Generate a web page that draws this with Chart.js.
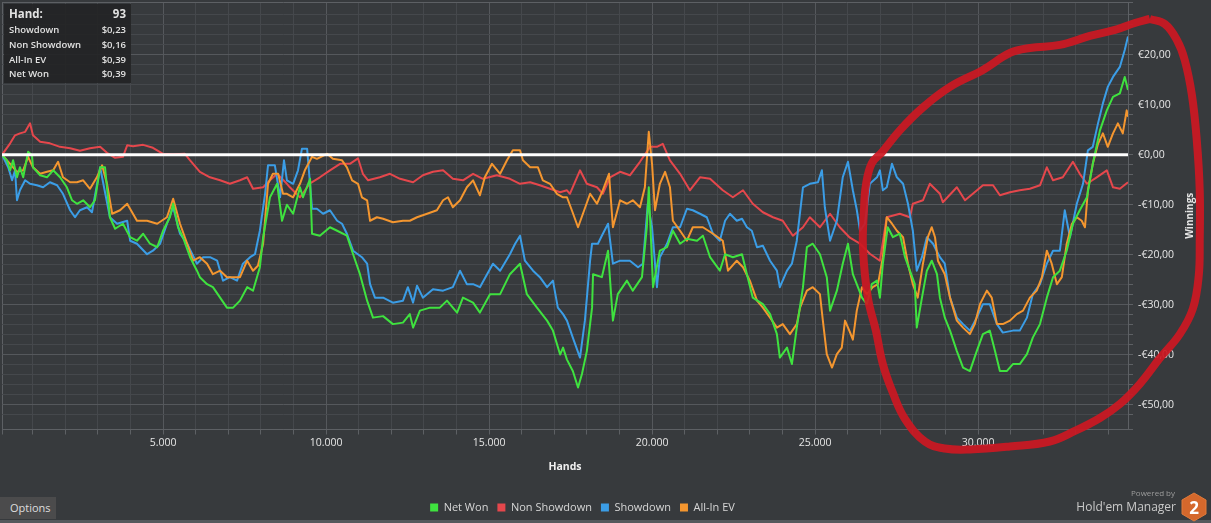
<!DOCTYPE html>
<html>
<head>
<meta charset="utf-8">
<script src="https://cdn.jsdelivr.net/npm/chart.js@4.4.1/dist/chart.umd.min.js"></script>
<style>
html,body{margin:0;padding:0;background:#373a3d;overflow:hidden}
#wrap{position:relative;width:1211px;height:523px;background:#373a3d}
#c{position:absolute;left:0;top:0}
#tip{position:absolute;left:4px;top:4px;width:127px;height:79px;background:rgba(34,35,37,0.9);font-family:"Open Sans","Noto Sans",sans-serif;color:#e2e2e2}
#tip .row{position:absolute;left:5px;right:5px;height:14px;line-height:14px;font-size:9.5px;font-weight:600;white-space:nowrap}
#tip .row .v{position:absolute;right:0;top:0}
#tip .row.h{font-size:11.5px;font-weight:700}
#opt{position:absolute;left:0;top:497px;width:56px;height:22px;background:#4b4b4c;color:#dedede;font-family:"Open Sans","Noto Sans",sans-serif;font-size:11px;line-height:22px;text-indent:10px}
#strip{position:absolute;left:0;top:520px;width:1211px;height:3px;background:#55585c}
#pw{position:absolute;right:36px;top:487px;font-family:"Open Sans","Noto Sans",sans-serif;font-size:8px;color:#9c9c9c}
#hm{position:absolute;right:35px;top:498px;font-family:"Open Sans","Noto Sans",sans-serif;font-size:12px;color:#c9c9c9}
#hex{position:absolute;left:1180px;top:492px}
</style>
</head>
<body>
<div id="wrap">
<canvas id="c" width="1211" height="523"></canvas>
<div id="tip">
  <div class="row h" style="top:3px">Hand:<span class="v">93</span></div>
  <div class="row" style="top:18.5px">Showdown<span class="v">$0,23</span></div>
  <div class="row" style="top:33.5px">Non Showdown<span class="v">$0,16</span></div>
  <div class="row" style="top:48.5px">All-In EV<span class="v">$0,39</span></div>
  <div class="row" style="top:63px">Net Won<span class="v">$0,39</span></div>
</div>
<div id="opt">Options</div>
<div id="strip"></div>
<div id="pw">Powered by</div>
<div id="hm">Hold'em Manager</div>
<svg id="hex" width="28" height="32" viewBox="0 0 28 32">
  <polygon points="14,1 26,8 26,22 14,29 2,22 2,8" fill="#d5682c" stroke="#e07a3a" stroke-width="1"/>
  <text x="14" y="21.5" text-anchor="middle" font-family="Open Sans, Noto Sans, sans-serif" font-weight="700" font-size="17" fill="#ffffff">2</text>
</svg>
</div>
<script>
// ---------------- DATA ----------------
const seriesNames = ['Net Won', 'Non Showdown', 'Showdown', 'All-In EV'];

const netWonHands = [60,210,310,400,520,610,710,860,980,1010,1230,1440,1630,1840,2050,2210,2360,2550,2760,2910,3070,3220,3370,3530,3770,3990,4200,4390,4600,4820,5000,5210,5310,5460,5610,5830,6040,6130,6350,6530,6750,6960,7150,7360,7580,7760,7970,8070,8280,8500,8650,8800,8990,9200,9290,9510,9570,9810,10120,10340,10640,10830,11040,11260,11440,11750,12050,12360,12570,12670,12880,13190,13490,13710,14020,14200,14510,14720,15030,15340,15640,15950,16160,16470,16780,16960,17180,17270,17390,17570,17730,17850,18000,18160,18190,18460,18650,18800,18950,19230,19410,19690,19840,19900,20030,20240,20460,20640,20860,21070,21380,21560,21780,22080,22240,22480,22760,22910,23090,23400,23620,23830,23920,24140,24290,24440,24630,24750,24930,25150,25360,25460,25670,25850,26010,26160,26280,26440,26590,26740,26900,26990,27080,27230,27390,27600,27760,27910,28060,28120,28280,28430,28580,28740,28830,28980,29140,29350,29540,29750,29960,30150,30360,30520,30670,30880,31070,31280,31500,31680,31900,32110,32300,32510,32720,32910,33120,33340,33520,33740,33950,34140,34350,34500,34600];
const netWonValues = [0,-1.1,-3.1,-1.1,-4.5,-2.5,-4.5,0.6,-0.1,-2.5,-4.1,-4.5,-3.1,-4.5,-6.5,-9.1,-9.8,-9.1,-10.5,-9.1,-2.5,-2.5,-12.5,-14.8,-13.8,-16.5,-17.2,-15.8,-17.8,-18.5,-15.2,-12.5,-9.8,-14.5,-16.5,-20.5,-23.2,-24.5,-25.9,-26.5,-28.6,-30.6,-30.6,-29.2,-26.5,-27.2,-22.5,-16.5,-8.5,-5.8,-13.2,-10,-11.8,-6.5,-8.5,-4.8,-15.8,-16.2,-14.5,-15.2,-16.2,-19.9,-23.9,-29.2,-32.6,-32.3,-33.9,-33.6,-31.9,-34.6,-31.2,-30.6,-30.6,-29.2,-31.6,-28.6,-29.6,-31.6,-27.9,-27.9,-23.9,-21.8,-27.9,-30.6,-33.2,-35.2,-40,-38.6,-41,-43.3,-46.6,-43.9,-39.3,-30.6,-23.9,-24.5,-19.2,-33.2,-27.9,-25.2,-27.2,-24.5,-14.5,-6.5,-26.5,-19.2,-18.5,-15.2,-17.8,-16.8,-17.2,-16.2,-20.5,-23.2,-19.9,-20.5,-19.9,-23.9,-28.6,-29.9,-31.9,-35.9,-40.6,-38.6,-41.9,-34.6,-26.5,-18.5,-17.8,-19.9,-24.5,-31.2,-27.2,-21.8,-17.8,-23.9,-25.9,-28.6,-29.9,-25.9,-25.2,-28.6,-21.8,-14.5,-16.5,-15.8,-20.5,-23.2,-25.9,-34.6,-28.6,-23.2,-21.2,-23.9,-28.6,-32.6,-35.2,-39.3,-42.6,-43.3,-39.3,-35.9,-35.2,-39.3,-43.3,-43.3,-41.9,-41.9,-39.9,-36.6,-33.9,-28.6,-24.5,-23.2,-19.2,-13.8,-11.1,-8.5,-1.8,4.9,8.9,11.6,12.3,15.6,13];

const nonShowdownHands = [60,310,460,610,770,920,1010,1230,1530,1840,2150,2450,2760,3070,3280,3530,3770,3900,4080,4390,4690,5000,5310,5670,5830,6130,6440,6750,7050,7360,7580,7760,8070,8280,8500,8800,8890,9200,9510,9810,10120,10430,10730,10980,11130,11290,11650,11960,12270,12670,12970,13280,13590,13890,14200,14510,14810,15240,15640,15950,16260,16560,16870,17180,17390,17480,17790,18000,18310,18490,18710,19020,19320,19630,19940,20150,20330,20550,20860,21160,21470,21780,22170,22480,22790,23090,23400,23710,24010,24320,24630,24840,25150,25460,25760,26070,26380,26680,26990,27200,27600,27910,28000,28310,28520,28830,28920,29350,29600,29840,30150,30460,30670,30980,31280,31590,31900,32110,32300,32600,32910,33120,33340,33640,33950,34140,34350,34600];
const nonShowdownValues = [0,2.3,3.9,4.3,4.6,6.3,3.9,2.6,2.3,1.6,1.3,0.8,1.3,1.6,0.4,-0.6,-0.4,1.9,1.7,2.0,1.4,0.2,0.1,0.2,-1.1,-3.4,-4.5,-5.1,-5.8,-5.1,-4.5,-6.8,-6.5,-5.1,-3.8,-5.8,-6.5,-8.5,-5.7,-4.5,-3.1,-1.8,-1.8,-0.7,-3.8,-5.1,-4.5,-3.8,-4.8,-5.5,-4.1,-3.4,-3.1,-4.8,-5.1,-3.8,-4.8,-4.1,-4.8,-5.8,-5.5,-6.1,-6.8,-7.5,-7.1,-7.8,-3.1,-5.8,-6.5,-7.8,-4.5,-3.4,-4.1,-1.4,1.6,1.6,2.2,-1.1,-3.8,-7.1,-4.5,-4.8,-7.1,-8.5,-7.1,-9.8,-11.5,-12.5,-13.2,-16.2,-14.5,-12.5,-14.5,-11.8,-14.5,-16.6,-17.8,-19.8,-21.2,-12.5,-11.8,-12.5,-9.8,-9.1,-5.8,-7.8,-9.5,-6.5,-9.1,-7.8,-6.1,-6.1,-8.1,-7.5,-7.1,-6.8,-6.1,-2.5,-5.1,-4.5,-1.4,-3.8,-5.8,-4.5,-3.1,-6.5,-6.8,-5.5];

const showdownHands = [60,250,370,460,520,610,770,920,1130,1320,1530,1750,1930,2150,2300,2450,2670,2820,3070,3370,3590,3900,3990,4200,4510,4690,4910,5120,5310,5520,5740,6040,6230,6440,6660,6840,7050,7270,7450,7670,7820,7970,8130,8220,8430,8590,8710,8800,8990,9140,9260,9420,9570,9720,9910,10120,10340,10490,10640,10830,11100,11260,11350,11500,11750,12050,12360,12510,12670,12790,12970,13280,13590,13890,14110,14320,14510,14720,14940,15120,15340,15640,15800,15950,16100,16350,16560,16780,16960,17110,17270,17390,17570,17790,17940,18100,18160,18340,18460,18650,18800,19020,19320,19570,19720,19870,20000,20150,20240,20460,20640,20860,21070,21250,21470,21680,21870,22080,22240,22390,22600,22760,22910,23060,23220,23400,23620,23830,23920,24140,24290,24440,24630,24840,25090,25210,25300,25460,25670,25850,26010,26160,26280,26380,26530,26680,26900,26990,27080,27200,27360,27510,27700,27850,28000,28120,28280,28430,28620,28830,28980,29140,29350,29540,29750,29960,30150,30360,30580,30760,31070,31280,31500,31680,31900,32110,32300,32510,32660,32820,33030,33220,33370,33520,33680,33830,33980,34140,34350,34500,34600];
const showdownValues = [0,-2.5,-5.1,-3.1,-9.1,-7.1,-5.1,-5.8,-6.1,-6.5,-5.5,-6.1,-7.8,-11.1,-12.5,-11.1,-10.5,-11.5,-2.5,-12.5,-13.8,-13.2,-17.2,-17.8,-19.9,-19.2,-17.8,-13.8,-10.5,-15.8,-17.8,-21.8,-20.5,-20.5,-21.2,-25.2,-24.5,-25.2,-21.8,-20.5,-19.9,-15.2,-7.8,-2.1,-2.1,-8.5,-1.1,-5.1,-5.8,-3.1,1.2,1.2,-10.8,-10.8,-11.8,-11.1,-13.2,-13.8,-15.8,-19.2,-20.5,-21.8,-25.9,-28.6,-28.6,-29.6,-29.2,-26.5,-29.6,-26.2,-28.6,-26.9,-27.2,-26.5,-23.2,-25.9,-25.9,-26.5,-23.9,-21.8,-23.2,-19.9,-17.8,-16.2,-21.2,-23.2,-24.5,-26.5,-25.2,-30.6,-31.9,-33.2,-36.6,-40.6,-33.2,-21.2,-17.8,-17.8,-16.2,-13.8,-21.8,-21.2,-21.2,-22.5,-21.8,-9.8,-14.5,-26.5,-20.5,-17.8,-14.5,-14.5,-10.8,-11.1,-11.8,-12.5,-15.8,-17.2,-13.2,-11.8,-13.2,-12.8,-14.5,-15.2,-18.5,-18.2,-21.2,-23.2,-26.5,-23.2,-21.8,-17.2,-6.5,-5.8,-5.5,-3.1,-10.5,-17.2,-13.2,-4.5,-1.4,-7.1,-11,-15.2,-13.8,-5.8,-4.5,-3.1,-7.1,-6.5,-1.8,-4.5,-5.8,-9.8,-15.2,-23.2,-20.5,-16.5,-17.8,-20.5,-21.8,-28.6,-32.6,-33.9,-35.2,-32.6,-29.9,-29.9,-33.9,-35.6,-35.2,-35.2,-32.6,-27.9,-25.9,-21.8,-19.2,-19.2,-11.1,-16.5,-9.8,-5.8,0.9,1.6,6.3,10.3,13.6,15.6,17.6,21.0,23.7];

const allInEvHands = [60,310,520,710,860,1010,1230,1440,1630,1780,1930,2150,2360,2550,2760,2970,3130,3280,3440,3680,3900,4200,4510,4820,5120,5310,5520,5740,5920,6130,6350,6530,6750,6960,7360,7580,7760,7910,8070,8220,8370,8530,8680,8800,8990,9200,9350,9570,9720,10030,10210,10490,10640,10800,10980,11100,11260,11350,11560,11750,12050,12360,12570,12790,13100,13400,13590,13740,13890,14110,14320,14510,14720,14870,15090,15340,15550,15730,15950,16040,16260,16500,16650,16870,17080,17270,17390,17540,17730,17880,18100,18310,18490,18680,18800,19020,19230,19410,19630,19780,19900,20000,20090,20240,20400,20550,20640,20860,21070,21250,21560,21870,22170,22330,22600,22790,23000,23220,23400,23620,23830,24010,24230,24440,24540,24750,24930,25150,25240,25360,25520,25670,25820,25920,26070,26160,26280,26440,26590,26770,26930,27080,27200,27360,27510,27700,27850,28000,28150,28310,28460,28580,28680,28770,28980,29140,29350,29540,29750,29900,30060,30270,30420,30580,30760,30980,31190,31380,31590,31800,31960,32110,32260,32420,32570,32720,32880,33030,33180,33280,33370,33520,33680,33830,33980,34140,34290,34440,34560,34600];
const allInEvValues = [0,-1.8,-3.4,-3.1,-0.4,-2.5,-3.8,-3.4,-3.1,-1.4,-4.5,-5.5,-5.5,-5.1,-6.8,-4.5,-2.1,-5.8,-11.8,-11.1,-9.8,-13.2,-13.2,-13.8,-12.5,-8.8,-13.8,-17.8,-21.2,-20.5,-21.8,-23.9,-23.2,-24.5,-24.5,-21.2,-23.2,-22.2,-17.8,-5.8,-3.8,-3.8,-7.8,-7.8,-8.5,-5.8,-3.1,-0.4,-0.8,0.2,-0.8,-1.1,-2.5,-5.1,-5.8,-8.5,-9.1,-13.2,-12.5,-12.8,-13.5,-13.2,-13.2,-12.5,-11.8,-11.1,-9.1,-8.5,-10.5,-9.1,-6.5,-5.1,-8.1,-4.5,-1.8,-3.8,-1.1,0.9,0.9,-1.1,-2.5,-2.5,-5.1,-5.8,-7.8,-8.5,-8.5,-11.1,-14.5,-11.8,-7.8,-9.8,-7.1,-3.8,-14.5,-9.1,-9.8,-9.1,-10.5,-6.5,4.6,-1.8,-11.1,-5.8,-3.4,-6.5,-13.2,-15.2,-17.2,-14.5,-14.5,-15.8,-17.2,-23.2,-21.2,-22.5,-25.2,-29.2,-30.6,-32.6,-34.6,-33.9,-35.9,-33.9,-30.6,-27.2,-26.5,-27.9,-33.2,-39.9,-42.6,-39.9,-38.6,-33.2,-35.5,-37,-31.2,-26.5,-27.9,-26.5,-25.9,-20.5,-12.5,-13.8,-15.2,-16.5,-21.8,-25.9,-28.6,-21.8,-16.5,-14.5,-16.5,-21.2,-23.9,-28.6,-33.2,-34.6,-35.9,-33.9,-29.9,-27.2,-28.6,-33.9,-33.9,-33.2,-31.9,-31.2,-28.6,-27.2,-24.5,-19.2,-21.8,-25.9,-24.5,-17.8,-13.8,-12.5,-13.2,-14.5,-7.1,-1.8,2.2,4.3,1.6,4.3,6.3,4.3,8.9,7.6];

// hand-drawn highlight loop (annotation), in hands / winnings
const circleHands = [35270,35730,36100,36340,36560,36710,36800,36800,36770,36590,36190,35580,34960,34350,33740,32970,32200,30980,29750,28980,28370,27760,27390,27080,26870,26620,26470,26500,26560,26740,27050,27600,28310,29140,30150,30980,31590,32510,33430,34200,34810,35270];
const circleWinnings = [27.2,26.2,23.0,19.0,12.0,2.9,-7.1,-17.2,-24.2,-30.8,-35.9,-40.7,-45.9,-49.9,-52.7,-55.3,-57.4,-58.4,-59.0,-58.8,-57.4,-52.9,-47.7,-41.9,-35.3,-28.6,-18.6,-11.2,-6.1,-1.7,0.5,4.9,9.5,13.6,17.0,20.4,21.4,22.0,23.8,25.0,26.4,27.2];

// axis ranges / ticks
const handsMin = 60, handsMax = 34600, handsMinorStep = 1000, handsLabelStep = 5000;
const winMin = -55, winMax = 30.6, winMinorStep = 2, winLabelStep = 10, winGridFrom = -52, winGridTo = 28;

// ---------------- CHART ----------------
const FONT = '"Open Sans", "Noto Sans", sans-serif';
const MINOR = '#45484c', MAJOR = '#55585c', EDGE = '#5d6064', TICKCOL = '#5d6064', TXT = '#e6e6e6';
const colors = ['#3fe23f', '#e5474c', '#3b9de6', '#f4962f'];

function toPoints(h, v) { return h.map((x, i) => ({x: x, y: v[i]})); }

const seriesData = [
  toPoints(netWonHands, netWonValues),
  toPoints(nonShowdownHands, nonShowdownValues),
  toPoints(showdownHands, showdownValues),
  toPoints(allInEvHands, allInEvValues)
];
const drawOrder = [0, 3, 2, 1];

const datasets = seriesNames.map((name, i) => ({
  label: name,
  data: seriesData[i],
  borderColor: colors[i],
  backgroundColor: colors[i],
  borderWidth: 2,
  pointRadius: 0,
  pointHoverRadius: 0,
  tension: 0,
  borderJoinStyle: 'round',
  fill: false,
  order: drawOrder[i]
}));
datasets.push({
  label: '',
  data: toPoints(circleHands, circleWinnings),
  borderColor: 'rgba(205,24,34,0.92)',
  backgroundColor: 'rgba(205,24,34,0.92)',
  borderWidth: 8,
  pointRadius: 0,
  tension: 0.4,
  clip: false,
  fill: false,
  order: -1
});
const ANNOT = datasets.length - 1;

const zeroLine = {
  id: 'zeroLine',
  beforeDatasetDraw(chart, args) {
    if (args.index !== ANNOT) return;
    const {ctx, chartArea: a, scales: {y}} = chart;
    const py = y.getPixelForValue(0);
    ctx.save();
    ctx.strokeStyle = '#ffffff';
    ctx.lineWidth = 3;
    ctx.beginPath();
    ctx.moveTo(a.left, py);
    ctx.lineTo(a.right, py);
    ctx.stroke();
    ctx.restore();
  }
};
const yTitle = {
  id: 'yTitle',
  afterDraw(chart) {
    const {ctx, chartArea: a} = chart;
    ctx.save();
    ctx.translate(a.right + 62, (a.top + a.bottom) / 2);
    ctx.rotate(-Math.PI / 2);
    ctx.font = 'bold 10px ' + FONT;
    ctx.fillStyle = '#e6e6e6';
    ctx.textAlign = 'center';
    ctx.textBaseline = 'middle';
    ctx.fillText('Winnings', 0, 0);
    ctx.restore();
  }
};
// centre the legend under the plot + tick labels rather than the full canvas
const legendShift = {
  id: 'legendShift',
  afterLayout(chart) {
    if (chart.legend) { chart.legend.right -= 48; }
  }
};

function fmtHands(v) { return (v / 1000) + '.000'; }
function fmtWin(v) { return (v < 0 ? '-' : '') + '€' + Math.abs(v) + ',00'; }

new Chart(document.getElementById('c'), {
  type: 'line',
  data: {datasets: datasets},
  plugins: [zeroLine, yTitle, legendShift],
  options: {
    responsive: false,
    animation: false,
    events: [],
    layout: {padding: {left: 2, top: 2, right: 0, bottom: 0}},
    plugins: {
      tooltip: {enabled: false},
      legend: {
        position: 'bottom',
        labels: {
          boxWidth: 8, boxHeight: 8, padding: 9,
          color: '#d6d6d6',
          font: {family: FONT, size: 11},
          generateLabels(chart) {
            const items = Chart.defaults.plugins.legend.labels.generateLabels(chart);
            items.forEach(it => { it.lineWidth = 0; });
            return items.filter(it => it.datasetIndex !== ANNOT).sort((a, b) => a.datasetIndex - b.datasetIndex);
          }
        }
      }
    },
    scales: {
      x: {
        type: 'linear',
        min: handsMin, max: handsMax,
        afterBuildTicks(scale) {
          const t = [{value: handsMin}];
          for (let v = handsMinorStep; v < handsMax; v += handsMinorStep) t.push({value: v});
          scale.ticks = t;
        },
        afterFit(scale) { scale.height = 63.5; scale.paddingLeft = 0; scale.paddingRight = 0; },
        grid: {
          color: c => (c.tick.value === handsMin ? EDGE : (c.tick.value % handsLabelStep === 0 ? MAJOR : MINOR)),
          tickColor: TICKCOL, tickLength: 5, drawTicks: true
        },
        border: {display: true, color: EDGE},
        ticks: {
          color: TXT, font: {family: FONT, size: 10.5}, padding: 2,
          autoSkip: false, maxRotation: 0,
          callback: v => (v % handsLabelStep === 0 && v > 0 ? fmtHands(v) : '')
        },
        title: {display: true, text: 'Hands', color: '#f0f0f0', font: {family: FONT, size: 10.5, weight: 'bold'}, padding: {top: 4, bottom: 20}}
      },
      y: {
        type: 'linear',
        position: 'right',
        min: winMin, max: winMax,
        afterBuildTicks(scale) {
          const t = [{value: winMin}];
          for (let v = winGridFrom; v <= winGridTo; v += winMinorStep) t.push({value: v});
          t.push({value: winMax});
          scale.ticks = t;
        },
        afterFit(scale) { scale.width = 83; scale.paddingTop = 0; scale.paddingBottom = 0; },
        grid: {
          color: c => (c.tick.value === winMin || c.tick.value === winMax ? EDGE : (c.tick.value % winLabelStep === 0 ? MAJOR : MINOR)),
          tickColor: TICKCOL, tickLength: 5, drawTicks: true
        },
        border: {display: true, color: EDGE},
        ticks: {
          color: TXT, font: {family: FONT, size: 10.5}, padding: 5,
          autoSkip: false,
          callback: v => (v % winLabelStep === 0 ? fmtWin(v) : '')
        }
      }
    }
  }
});
</script>
</body>
</html>
